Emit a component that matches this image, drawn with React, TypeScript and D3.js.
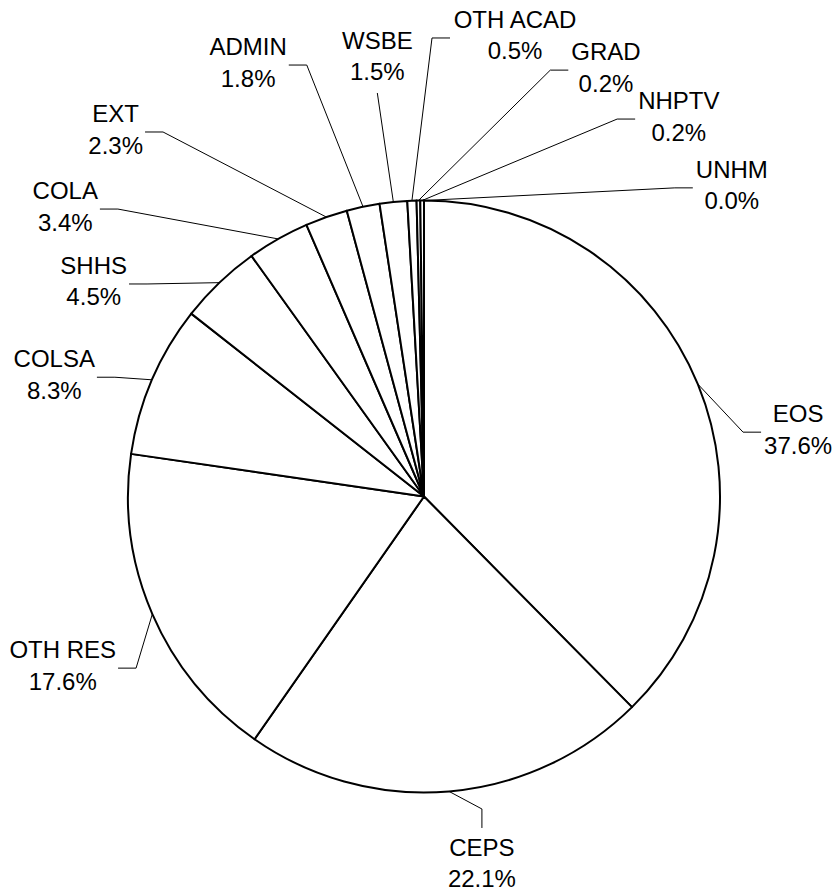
import React, { useMemo } from 'react';
import * as d3 from 'd3';

// budget share by unit, clockwise from 12 o'clock
const categories = ['EOS', 'CEPS', 'OTH RES', 'COLSA', 'SHHS', 'COLA', 'EXT', 'ADMIN', 'WSBE', 'OTH ACAD', 'GRAD', 'NHPTV', 'UNHM'];
const shares = [37.6, 22.1, 17.6, 8.3, 4.5, 3.4, 2.3, 1.8, 1.5, 0.5, 0.2, 0.2, 0.0];

// where each leader line bends (polar, around the pie centre) and which way the label sits
const labelAngles = [78.6, 169.5, 239.2, 291.1, 307.5, 313.2, 324.4, 344.8, 353.4, 1.0, 16.5, 27.1, 39.1];
const labelRadii = [325.5, 317.8, 335.2, 331.3, 349.1, 419.9, 448.3, 447.1, 406.2, 458.6, 444.7, 424, 397.7];
const labelSides = ['right', 'down', 'left', 'left', 'left', 'left', 'left', 'left', 'up', 'right', 'right', 'right', 'right'];

const W = 838;
const H = 894;
const cx = 424;
const cy = 496.5;
const R = 296;
const FONT = "'Liberation Sans', Arial, sans-serif";
const FS = 24;
const LINE = 31.5;

let ctx: CanvasRenderingContext2D | null = null;
const textWidth = (s: string) => {
    if (!ctx) {
        ctx = document.createElement('canvas').getContext('2d');
    }
    if (!ctx) return s.length * FS * 0.6;
    ctx.font = `${FS}px ${FONT}`;
    return ctx.measureText(s).width;
};

const App = () => {
    const slices = useMemo(() => {
        const pie = d3.pie<number>()
            .sort(null)
            .value(d => d)
            .startAngle(0)
            .endAngle(2 * Math.PI);
        return pie(shares);
    }, []);

    const arc = d3.arc<d3.PieArcDatum<number>>()
        .innerRadius(0)
        .outerRadius(R);

    return (
        <svg width={W} height={H} style={{ position: 'absolute', left: 0, top: 0, background: '#fff' }}
            fontFamily={FONT} fontSize={FS}>
            <rect width={W} height={H} fill="#fff" />
            <g transform={`translate(${cx},${cy})`}>
                {slices.map((s, i) => (
                    <path key={categories[i]} d={arc(s) || ''} fill="#fff" stroke="#000" strokeWidth={2} strokeLinejoin="round" />
                ))}
                {slices.map((s, i) => {
                    const mid = (s.startAngle + s.endAngle) / 2;
                    const [sx, sy] = d3.pointRadial(mid, R);
                    const [ex, ey] = d3.pointRadial(labelAngles[i] * Math.PI / 180, labelRadii[i]);
                    const side = labelSides[i];
                    const name = categories[i];
                    const pct = `${shares[i].toFixed(1)}%`;
                    const w = Math.max(textWidth(name), textWidth(pct));
                    let pts: [number, number][] = [[sx, sy], [ex, ey]];
                    let tx = ex;
                    let b1 = ey - 10;
                    if (side === 'right') {
                        pts.push([ex + 18, ey]);
                        tx = ex + 18 + 3 + w / 2;
                    } else if (side === 'left') {
                        pts.push([ex - 18, ey]);
                        tx = ex - 18 - 2 - w / 2;
                    } else if (side === 'down') {
                        pts.push([ex, ey + 19]);
                        b1 = ey + 19 + 28;
                    } else {
                        b1 = ey - 13 - LINE;
                    }
                    return (
                        <g key={name}>
                            <path d={d3.line()(pts) || ''} fill="none" stroke="#000" strokeWidth={1} />
                            <text x={tx} y={b1} textAnchor="middle" fill="#000">{name}</text>
                            <text x={tx} y={b1 + LINE} textAnchor="middle" fill="#000">{pct}</text>
                        </g>
                    );
                })}
            </g>
        </svg>
    );
};

export default App;
